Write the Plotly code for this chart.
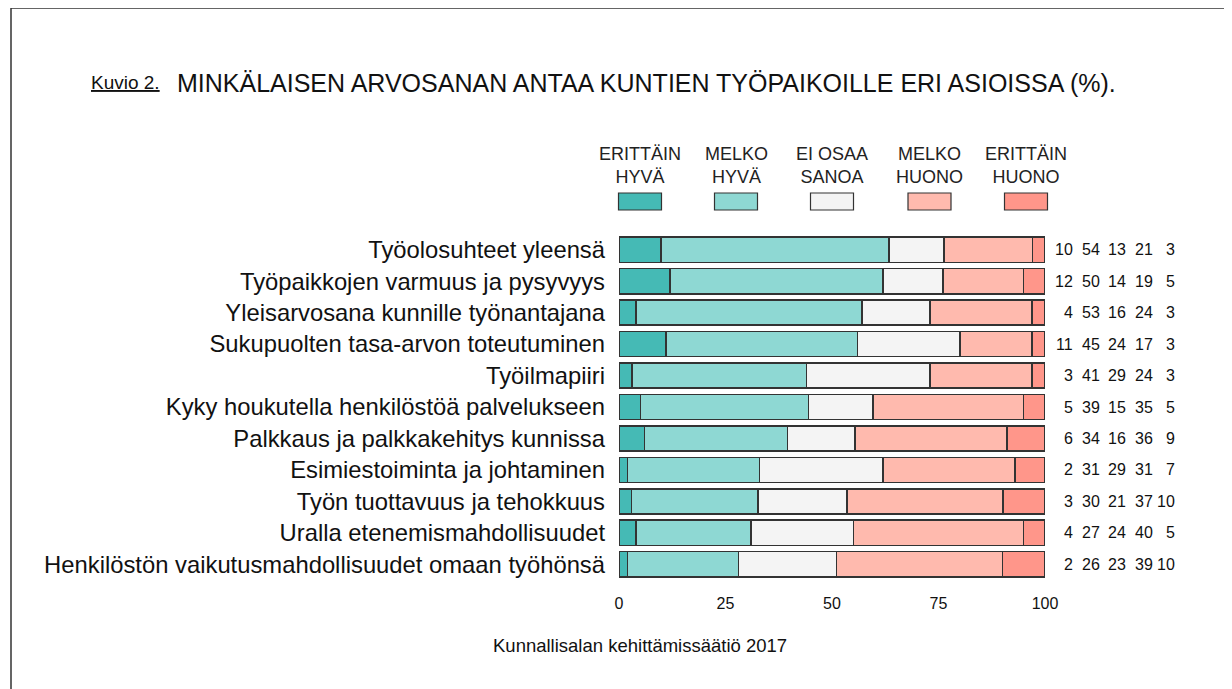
import plotly.graph_objects as go

categories = [
    "Työolosuhteet yleensä",
    "Työpaikkojen varmuus ja pysyvyys",
    "Yleisarvosana kunnille työnantajana",
    "Sukupuolten tasa-arvon toteutuminen",
    "Työilmapiiri",
    "Kyky houkutella henkilöstöä palvelukseen",
    "Palkkaus ja palkkakehitys kunnissa",
    "Esimiestoiminta ja johtaminen",
    "Työn tuottavuus ja tehokkuus",
    "Uralla etenemismahdollisuudet",
    "Henkilöstön vaikutusmahdollisuudet omaan työhönsä",
]
series_names = ["ERITTÄIN<br>HYVÄ", "MELKO<br>HYVÄ", "EI OSAA<br>SANOA", "MELKO<br>HUONO", "ERITTÄIN<br>HUONO"]
erittain_hyva = [10, 12, 4, 11, 3, 5, 6, 2, 3, 4, 2]
melko_hyva = [54, 50, 53, 45, 41, 39, 34, 31, 30, 27, 26]
ei_osaa = [13, 14, 16, 24, 29, 15, 16, 29, 21, 24, 23]
melko_huono = [21, 19, 24, 17, 24, 35, 36, 31, 37, 40, 39]
erittain_huono = [3, 5, 3, 3, 3, 5, 9, 7, 10, 5, 10]
x_ticks = [0, 25, 50, 75, 100]

series = [erittain_hyva, melko_hyva, ei_osaa, melko_huono, erittain_huono]
colors = ["#45BAB5", "#8ED8D3", "#F4F4F4", "#FFBAAE", "#FF968A"]
FONT = "Liberation Sans, Arial, sans-serif"

totals = [sum(s[i] for s in series) for i in range(len(categories))]

fig = go.Figure()
for name, vals, col in zip(series_names, series, colors):
    fig.add_trace(go.Bar(
        y=categories,
        x=[v / t * 100 for v, t in zip(vals, totals)],
        orientation="h",
        name=name,
        marker=dict(color=col, line=dict(color="#333333", width=1.5)),
        showlegend=False,
    ))

# page has an 8px body margin; figure is shrunk to compensate
OFF = 8
W, H = 1232 - OFF, 689 - OFF
PL, PT, PW, PH = 619, 234, 426, 346  # plot area in screen coordinates


def px(x):
    return (x - PL) / PW


def py(y):
    return (PT + PH - y) / PH


shapes = []
annotations = []

# frame
shapes.append(dict(type="rect", xref="paper", yref="paper",
                   x0=px(11), x1=px(1229), y0=py(8), y1=py(720),
                   line=dict(color="#333333", width=1.5), fillcolor="rgba(0,0,0,0)", layer="below"))

# legend
leg_centers = [640, 736, 832, 929.5, 1026]
for name, col, cx in zip(series_names, colors, leg_centers):
    shapes.append(dict(type="rect", xref="paper", yref="paper",
                       x0=px(cx - 21.5), x1=px(cx + 21.5), y0=py(210), y1=py(193),
                       line=dict(color="#333333", width=1.2), fillcolor=col))
    annotations.append(dict(xref="paper", yref="paper", x=px(cx), y=py(165),
                            text=name, showarrow=False, xanchor="center", yanchor="middle",
                            font=dict(family=FONT, size=18, color="#222222")))

# value columns
col_right = [1075, 1101.5, 1128, 1154.5, 1177]
for vals, xr in zip(series, col_right):
    for cat, v in zip(categories, vals):
        annotations.append(dict(xref="paper", yref="y", x=px(xr), y=cat, text=str(v),
                                showarrow=False, xanchor="right", yanchor="middle",
                                font=dict(family=FONT, size=16, color="#111111")))

# title
annotations.append(dict(xref="paper", yref="paper", x=px(89), y=py(83),
                        text="<u>Kuvio 2.</u>", showarrow=False, xanchor="left", yanchor="middle",
                        font=dict(family=FONT, size=19, color="#111111")))
annotations.append(dict(xref="paper", yref="paper", x=px(175), y=py(83),
                        text="MINKÄLAISEN ARVOSANAN ANTAA KUNTIEN TYÖPAIKOILLE ERI ASIOISSA (%).",
                        showarrow=False, xanchor="left", yanchor="middle",
                        font=dict(family=FONT, size=25, color="#111111")))
# footer
annotations.append(dict(xref="paper", yref="paper", x=px(640), y=py(645),
                        text="Kunnallisalan kehittämissäätiö 2017",
                        showarrow=False, xanchor="center", yanchor="middle",
                        font=dict(family=FONT, size=18.5, color="#111111")))

fig.update_layout(
    width=W, height=H,
    margin=dict(l=PL - OFF, r=W - (PL - OFF) - PW, t=PT - OFF, b=H - (PT - OFF) - PH,
                autoexpand=False),
    barmode="stack",
    bargap=0.2,
    plot_bgcolor="white",
    paper_bgcolor="white",
    font=dict(family=FONT, color="#111111"),
    xaxis=dict(range=[0, 100], tickvals=x_ticks, showgrid=False, zeroline=False,
               showline=False, ticks="", ticklabelstandoff=12,
               tickfont=dict(size=16, color="#111111"), fixedrange=True),
    yaxis=dict(autorange="reversed", showgrid=False, zeroline=False, showline=False,
               ticks="", ticklabelstandoff=13,
               tickfont=dict(size=23.8, color="#111111"), fixedrange=True),
    shapes=shapes,
    annotations=annotations,
)

fig.write_html("out.html")
